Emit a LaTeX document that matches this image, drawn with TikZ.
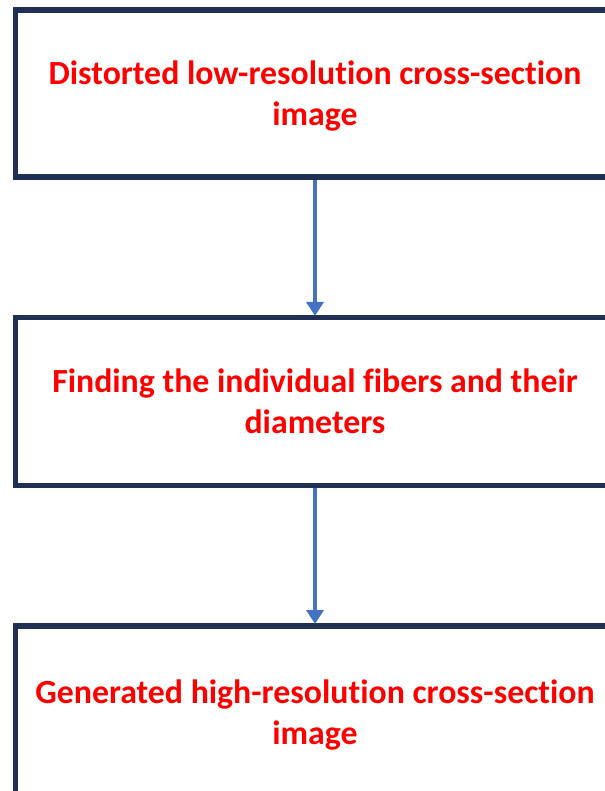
\documentclass[tikz,border=0pt]{standalone}
\usepackage{fontspec}
\setmainfont[Ligatures=NoCommon]{Carlito}
\usetikzlibrary{arrows.meta}
\definecolor{navy}{RGB}{31,48,84}
\definecolor{arrowblue}{RGB}{68,114,196}
\definecolor{txtred}{RGB}{255,0,0}
\newcommand\lnstrut{\rule[-9pt]{0pt}{41pt}}
\tikzset{
  stepbox/.style={draw=navy, line width=5.5pt, fill=white, minimum width=598.6pt, minimum height=167.6pt, inner sep=0pt,
    text=txtred, font=\fontsize{33.8}{41}\selectfont\bfseries, align=center},
  flow/.style={draw=arrowblue, line width=4.5pt, -{Triangle[width=17pt,length=14pt]}, shorten >=-1pt}
}
\begin{document}
\begin{tikzpicture}[x=1pt,y=-1pt]
\useasboundingbox (0,0) rectangle (604,791);
\node[stepbox, minimum height=167.3pt] (b1) at (315,93.5) {\lnstrut Distorted low-resolution cross-section\\\lnstrut image};
\node[stepbox, minimum height=167.6pt] (b2) at (315,401.5) {\lnstrut Finding the individual fibers and their\\\lnstrut diameters};
\node[stepbox, minimum height=172.5pt] (b3) at (315,712) {\lnstrut Generated high-resolution cross-section\\\lnstrut image};
\draw[flow] (b1.south) -- (b2.north);
\draw[flow] (b2.south) -- (b3.north);
\end{tikzpicture}
\end{document}
